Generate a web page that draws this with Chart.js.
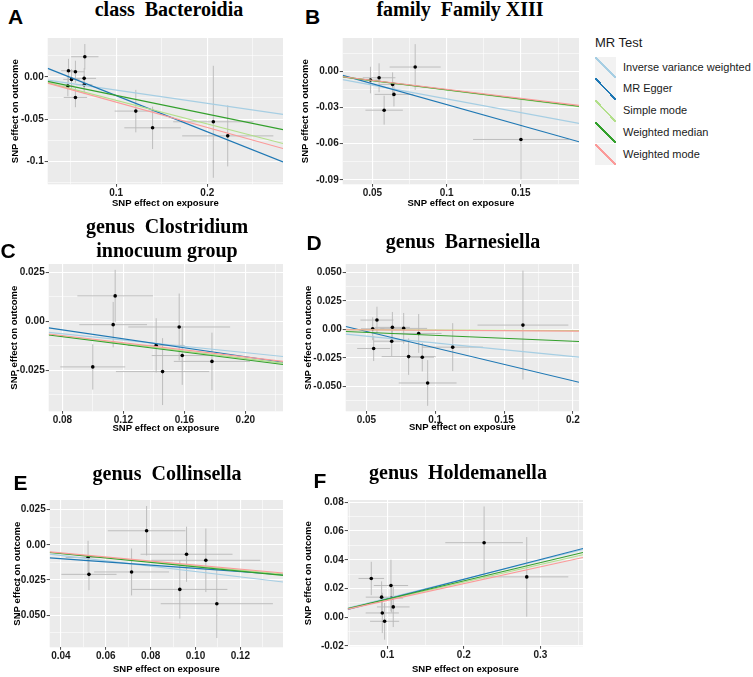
<!DOCTYPE html>
<html>
<head>
<meta charset="utf-8">
<script src="https://cdn.jsdelivr.net/npm/chart.js@4.4.1/dist/chart.umd.min.js"></script>
<style>
  html, body { margin: 0; padding: 0; background: #fff; }
  body { width: 753px; height: 677px; position: relative; overflow: hidden; }
  canvas { position: absolute; }
  .letter { position: absolute; font-family: "Liberation Sans", Arial, sans-serif; font-weight: bold;
            font-size: 21px; line-height: 21px; color: #000; }
  .title { position: absolute; font-family: "Liberation Serif", "Times New Roman", serif; font-weight: bold;
           font-size: 20px; line-height: 24px; color: #000; white-space: pre; text-align: center;
           transform: translateX(-50%); }
  .legTitle { position: absolute; left: 595px; top: 35px; font-family: "Liberation Sans", Arial, sans-serif;
              font-size: 13px; line-height: 15px; color: #1a1a1a; }
  .key { position: absolute; left: 595px; width: 21px; height: 21.7px; }
  .keyText { position: absolute; left: 623px; height: 21.7px; line-height: 21.7px;
             font-family: "Liberation Sans", Arial, sans-serif; font-size: 11px; color: #1a1a1a; white-space: nowrap; }
</style>
</head>
<body>
<script>
// MR methods, legend order
const methodNames = ["Inverse variance weighted", "MR Egger", "Simple mode", "Weighted median", "Weighted mode"];
const methodColors = ["#A6CEE3", "#1F78B4", "#B2DF8A", "#33A02C", "#FB9A99"];

// A  class Bacteroidia
const aExposure   = [0.0478, 0.0511, 0.0554, 0.0657, 0.0650, 0.0650, 0.0471, 0.0554, 0.1216, 0.1400, 0.2066, 0.2224];
const aOutcome    = [0.0071, -0.0031, 0.0059, 0.0236, -0.0019, -0.0094, -0.0110, -0.0244, -0.0405, -0.0602, -0.0531, -0.0697];
const aSeExposure = [0.008, 0.009, 0.010, 0.015, 0.013, 0.009, 0.007, 0.0128, 0.0232, 0.031, 0.044, 0.050];
const aSeOutcome  = [0.014, 0.012, 0.013, 0.015, 0.012, 0.011, 0.012, 0.0115, 0.025, 0.025, 0.066, 0.036];
const aSlopes     = [-0.157, -0.4275, -0.278, -0.220, -0.299];
const aIntercepts = [0, 0.0206, 0, 0, 0];
const aXRange = [0.025, 0.283], aYRange = [-0.1268, 0.0457];
const aXTicks = [0.1, 0.2], aXLabels = ["0.1", "0.2"];
const aYTicks = [-0.1, -0.05, 0], aYLabels = ["-0.1", "-0.05", "0.00"];

// B  family Family XIII
const bExposure   = [0.0487, 0.0545, 0.0636, 0.0645, 0.0579, 0.0788, 0.1500];
const bOutcome    = [-0.0072, -0.0053, -0.0108, -0.0191, -0.0322, 0.0036, -0.0565];
const bSeExposure = [0.007, 0.011, 0.009, 0.013, 0.0126, 0.0172, 0.0322];
const bSeOutcome  = [0.011, 0.012, 0.010, 0.010, 0.012, 0.019, 0.033];
const bSlopes     = [-0.2285, -0.3463, -0.1553, -0.153, -0.1495];
const bIntercepts = [0, 0.0071, 0, 0, 0];
const bXRange = [0.030, 0.1891], bYRange = [-0.0937, 0.0277];
const bXTicks = [0.05, 0.1, 0.15], bXLabels = ["0.05", "0.1", "0.15"];
const bYTicks = [-0.09, -0.06, -0.03, 0], bYLabels = ["-0.09", "-0.06", "-0.03", "0.00"];

// C  genus Clostridium innocuum group
const cExposure   = [0.1146, 0.1133, 0.0999, 0.1415, 0.1457, 0.1566, 0.1586, 0.1781];
const cOutcome    = [0.0130, -0.0017, -0.0233, -0.0123, -0.0257, -0.0029, -0.0175, -0.0205];
const cSeExposure = [0.0248, 0.0222, 0.0213, 0.0186, 0.0306, 0.0334, 0.020, 0.025];
const cSeOutcome  = [0.0133, 0.0116, 0.0116, 0.0139, 0.0171, 0.0171, 0.015, 0.0147];
const cSlopes     = [-0.0801, -0.1145, -0.095, -0.0983, -0.0912];
const cIntercepts = [0, 0.0048, 0, 0, 0];
const cXRange = [0.071, 0.2247], cYRange = [-0.046, 0.0293];
const cXTicks = [0.08, 0.12, 0.16, 0.20], cXLabels = ["0.08", "0.12", "0.16", "0.20"];
const cYTicks = [-0.025, 0, 0.025], cYLabels = ["-0.025", "0.00", "0.025"];

// D  genus Barnesiella
const dExposure   = [0.0546, 0.0577, 0.0553, 0.0689, 0.0684, 0.0771, 0.0880, 0.0807, 0.0906, 0.0945, 0.1127, 0.1637];
const dOutcome    = [0.0006, 0.0082, -0.0167, 0.0018, -0.0103, 0.0009, -0.0035, -0.0238, -0.0243, -0.0469, -0.0155, 0.0038];
const dSeExposure = [0.0085, 0.012, 0.012, 0.0127, 0.013, 0.017, 0.0166, 0.0196, 0.0085, 0.021, 0.022, 0.033];
const dSeOutcome  = [0.010, 0.0117, 0.011, 0.0135, 0.013, 0.0135, 0.017, 0.016, 0.0125, 0.020, 0.021, 0.0477];
const dSlopes     = [-0.1189, -0.2887, -0.005, -0.0518, -0.007];
const dIntercepts = [0, 0.0127, 0, 0, 0];
const dXRange = [0.035, 0.2044], dYRange = [-0.0717, 0.0573];
const dXTicks = [0.05, 0.1, 0.15, 0.2], dXLabels = ["0.05", "0.1", "0.15", "0.2"];
const dYTicks = [-0.05, -0.025, 0, 0.025, 0.05], dYLabels = ["-0.050", "-0.025", "0.00", "0.025", "0.050"];

// E  genus Collinsella
const eExposure   = [0.0521, 0.0525, 0.0715, 0.0782, 0.0930, 0.0960, 0.1046, 0.1095];
const eOutcome    = [-0.0090, -0.0210, -0.0193, 0.0100, -0.0317, -0.0067, -0.0110, -0.0419];
const eSeExposure = [0.010, 0.0123, 0.0167, 0.0173, 0.0212, 0.0205, 0.0243, 0.025];
const eSeOutcome  = [0.0119, 0.0113, 0.0167, 0.0176, 0.0208, 0.0196, 0.0226, 0.0244];
const eSlopes     = [-0.19, -0.1144, -0.150, -0.156, -0.144];
const eIntercepts = [0, -0.0053, 0, 0, 0];
const eXRange = [0.035, 0.139], eYRange = [-0.0729, 0.0319];
const eXTicks = [0.04, 0.06, 0.08, 0.10, 0.12], eXLabels = ["0.04", "0.06", "0.08", "0.10", "0.12"];
const eYTicks = [-0.05, -0.025, 0, 0.025], eYLabels = ["-0.050", "-0.025", "0.00", "0.025"];

// F  genus Holdemanella
const fExposure   = [0.0791, 0.1048, 0.0926, 0.1057, 0.0935, 0.0965, 0.1078, 0.2265, 0.2822];
const fOutcome    = [0.0270, 0.0221, 0.0140, 0.0133, 0.0030, -0.0028, 0.0072, 0.0519, 0.0281];
const fSeExposure = [0.0167, 0.0224, 0.0207, 0.015, 0.0217, 0.019, 0.0213, 0.0507, 0.0543];
const fSeOutcome  = [0.0116, 0.018, 0.011, 0.010, 0.014, 0.0128, 0.014, 0.0252, 0.0277];
const fSlopes     = [0.1327, 0.138, 0.1223, 0.1268, 0.117];
const fIntercepts = [0, -0.0012, 0, 0, 0];
const fXRange = [0.0483, 0.3557], fYRange = [-0.0202, 0.0816];
const fXTicks = [0.1, 0.2, 0.3], fXLabels = ["0.1", "0.2", "0.3"];
const fYTicks = [-0.02, 0, 0.02, 0.04, 0.06, 0.08], fYLabels = ["-0.02", "0.00", "0.02", "0.04", "0.06", "0.08"];

const panelLetters = ["A", "B", "C", "D", "E", "F"];
const panelTitles = ["class  Bacteroidia", "family  Family XIII", "genus  Clostridium\ninnocuum group",
                     "genus  Barnesiella", "genus  Collinsella", "genus  Holdemanella"];

const panels = [
  { ex: aExposure, out: aOutcome, seX: aSeExposure, seY: aSeOutcome, slopes: aSlopes, icpt: aIntercepts,
    xr: aXRange, yr: aYRange, xt: aXTicks, xl: aXLabels, yt: aYTicks, yl: aYLabels },
  { ex: bExposure, out: bOutcome, seX: bSeExposure, seY: bSeOutcome, slopes: bSlopes, icpt: bIntercepts,
    xr: bXRange, yr: bYRange, xt: bXTicks, xl: bXLabels, yt: bYTicks, yl: bYLabels },
  { ex: cExposure, out: cOutcome, seX: cSeExposure, seY: cSeOutcome, slopes: cSlopes, icpt: cIntercepts,
    xr: cXRange, yr: cYRange, xt: cXTicks, xl: cXLabels, yt: cYTicks, yl: cYLabels },
  { ex: dExposure, out: dOutcome, seX: dSeExposure, seY: dSeOutcome, slopes: dSlopes, icpt: dIntercepts,
    xr: dXRange, yr: dYRange, xt: dXTicks, xl: dXLabels, yt: dYTicks, yl: dYLabels },
  { ex: eExposure, out: eOutcome, seX: eSeExposure, seY: eSeOutcome, slopes: eSlopes, icpt: eIntercepts,
    xr: eXRange, yr: eYRange, xt: eXTicks, xl: eXLabels, yt: eYTicks, yl: eYLabels },
  { ex: fExposure, out: fOutcome, seX: fSeExposure, seY: fSeOutcome, slopes: fSlopes, icpt: fIntercepts,
    xr: fXRange, yr: fYRange, xt: fXTicks, xl: fXLabels, yt: fYTicks, yl: fYLabels }
];

// page layout: plot rectangle, axis title centres, letter/title spots
const layout = [
  { L: 48,  T: 38,  R: 283, B: 184, yTitleX: 16,  xTitleY: 203, letter: [8, 6],     title: [169, -3] },
  { L: 343, T: 38,  R: 579, B: 184, yTitleX: 306, xTitleY: 203, letter: [305, 5.5], title: [460, -3] },
  { L: 49,  T: 264, R: 283, B: 411, yTitleX: 15,  xTitleY: 428, letter: [0.5, 240], title: [167, 214] },
  { L: 346, T: 264, R: 579, B: 411, yTitleX: 309, xTitleY: 427, letter: [306.5, 232], title: [463, 228.5] },
  { L: 50,  T: 500, R: 283, B: 647, yTitleX: 18,  xTitleY: 669, letter: [13.5, 472], title: [167, 461] },
  { L: 348, T: 500, R: 583, B: 646, yTitleX: 309, xTitleY: 669, letter: [313.5, 470], title: [458, 459.5] }
];

const sans = "'Liberation Sans', Arial, sans-serif";
const tickFont = { family: sans, size: 10, weight: "bold" };
const titleFont = { family: sans, size: 9.5, weight: "bold" };
const padTop = 8;

function withMinor(majors, min, max) {
  const step = majors.length > 1 ? majors[1] - majors[0] : 0.1;
  const half = step / 2;
  let v = majors[0];
  while (v - half >= min - 1e-9) v -= half;
  const vals = [];
  for (; v <= max + 1e-9; v += half) vals.push(Math.round(v * 1e6) / 1e6);
  return vals;
}

function findMajor(majors, v) {
  return majors.findIndex(m => Math.abs(m - v) < 1e-7);
}

function axis(majors, labels, range, size, title, isX) {
  const all = withMinor(majors, range[0], range[1]);
  const major = ctx => ctx.tick && findMajor(majors, ctx.tick.value) >= 0;
  return {
    type: "linear",
    min: range[0],
    max: range[1],
    afterBuildTicks: s => { s.ticks = all.map(v => ({ value: v })); },
    afterFit: s => { if (isX) s.height = size; else s.width = size; },
    ticks: {
      autoSkip: false, maxRotation: 0, padding: isX ? 0 : 1, color: "#1a1a1a", font: tickFont,
      callback: v => { const i = findMajor(majors, v); return i >= 0 ? labels[i] : ""; }
    },
    grid: {
      color: "#ffffff",
      lineWidth: ctx => major(ctx) ? 1.1 : 0.55,
      drawTicks: true, tickLength: isX ? 2.5 : 3, tickWidth: 0.9,
      tickColor: ctx => major(ctx) ? "#333333" : "rgba(0,0,0,0)"
    },
    border: { display: false },
    title: { display: true, text: title, color: "#000", font: titleFont, padding: 0 }
  };
}

const panelBg = {
  id: "panelBg",
  beforeDraw(chart) {
    const { ctx, chartArea: a } = chart;
    ctx.save();
    ctx.fillStyle = "#EBEBEB";
    ctx.fillRect(a.left, a.top, a.right - a.left, a.bottom - a.top);
    ctx.restore();
  }
};

const errorBars = {
  id: "errorBars",
  beforeDatasetsDraw(chart) {
    const { ctx, chartArea: a, scales } = chart;
    const ds = chart.data.datasets.find(d => d.seX);
    ctx.save();
    ctx.beginPath();
    ctx.rect(a.left, a.top, a.right - a.left, a.bottom - a.top);
    ctx.clip();
    ctx.strokeStyle = "#b8b8b8";
    ctx.lineWidth = 0.9;
    ds.data.forEach((p, i) => {
      const x1 = scales.x.getPixelForValue(p.x - ds.seX[i]);
      const x2 = scales.x.getPixelForValue(p.x + ds.seX[i]);
      const y1 = scales.y.getPixelForValue(p.y - ds.seY[i]);
      const y2 = scales.y.getPixelForValue(p.y + ds.seY[i]);
      const px = scales.x.getPixelForValue(p.x);
      const py = scales.y.getPixelForValue(p.y);
      ctx.beginPath();
      ctx.moveTo(x1, py); ctx.lineTo(x2, py);
      ctx.moveTo(px, y1); ctx.lineTo(px, y2);
      ctx.stroke();
    });
    ctx.restore();
  }
};

const lh = titleFont.size * 1.2;

panels.forEach((p, k) => {
  const g = layout[k];
  const left = g.yTitleX - lh / 2;
  const top = g.T - padTop;
  const right = g.R + 4;
  const bottom = g.xTitleY + lh / 2;

  const canvas = document.createElement("canvas");
  canvas.width = Math.round(right - left);
  canvas.height = Math.round(bottom - top);
  canvas.style.left = left + "px";
  canvas.style.top = top + "px";
  canvas.style.width = canvas.width + "px";
  canvas.style.height = canvas.height + "px";
  document.body.appendChild(canvas);

  // regression lines first so they draw over the points
  const lines = [];
  for (let m = methodNames.length - 1; m >= 0; m--) {
    lines.push({
      type: "line",
      label: methodNames[m],
      data: p.xr.map(x => ({ x: x, y: p.icpt[m] + p.slopes[m] * x })),
      borderColor: methodColors[m],
      borderWidth: 1.15,
      pointRadius: 0,
      fill: false
    });
  }

  new Chart(canvas, {
    type: "scatter",
    data: {
      datasets: lines.concat([{
        label: "SNPs",
        data: p.ex.map((x, i) => ({ x: x, y: p.out[i] })),
        seX: p.seX,
        seY: p.seY,
        pointRadius: 1.8,
        pointBorderWidth: 0,
        pointBackgroundColor: "#000"
      }])
    },
    options: {
      responsive: false,
      animation: false,
      events: [],
      layout: { padding: { top: padTop, right: 4, left: 0, bottom: 0 } },
      plugins: { legend: { display: false }, tooltip: { enabled: false } },
      scales: {
        x: axis(p.xt, p.xl, p.xr, bottom - g.B, "SNP effect on exposure", true),
        y: axis(p.yt, p.yl, p.yr, g.L - left, "SNP effect on outcome", false)
      }
    },
    plugins: [panelBg, errorBars]
  });

  const letter = document.createElement("div");
  letter.className = "letter";
  letter.textContent = panelLetters[k];
  letter.style.left = g.letter[0] + "px";
  letter.style.top = g.letter[1] + "px";
  document.body.appendChild(letter);

  const title = document.createElement("div");
  title.className = "title";
  title.textContent = panelTitles[k];
  title.style.left = g.title[0] + "px";
  title.style.top = g.title[1] + "px";
  document.body.appendChild(title);
});

// legend
const legTitle = document.createElement("div");
legTitle.className = "legTitle";
legTitle.textContent = "MR Test";
document.body.appendChild(legTitle);

methodNames.forEach((name, m) => {
  const top = 56.7 + m * 21.7;
  const key = document.createElement("div");
  key.className = "key";
  key.style.top = top + "px";
  key.style.background = "linear-gradient(to top right, rgba(0,0,0,0) calc(50% - 0.9px), " +
    methodColors[m] + " calc(50% - 0.9px), " + methodColors[m] + " calc(50% + 0.9px), rgba(0,0,0,0) calc(50% + 0.9px)), #F2F2F2";
  document.body.appendChild(key);

  const txt = document.createElement("div");
  txt.className = "keyText";
  txt.style.top = top + "px";
  txt.textContent = name;
  document.body.appendChild(txt);
});
</script>
</body>
</html>
